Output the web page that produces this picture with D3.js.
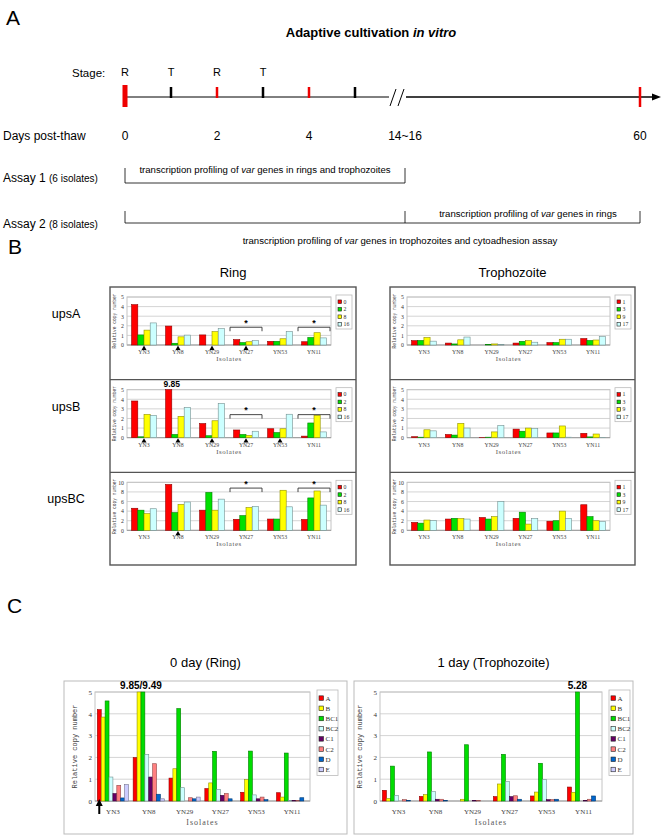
<!DOCTYPE html>
<html><head><meta charset="utf-8">
<script src="https://cdn.jsdelivr.net/npm/d3@7"></script>
<style>body{margin:0;background:#fff}</style>
</head><body>
<svg id="fig" width="662" height="837"></svg>
<script>
// ---------------- DATA ----------------
const isolates = ["YN3","YN8","YN29","YN27","YN53","YN11"];
const ringDays = ["0","2","8","16"];
const trophDays = ["1","3","9","17"];
// series x isolates
const ringUpsA = [[4.2,1.97,1.05,0.56,0.38,0.34],[1.05,0.18,0,0.25,0.38,0.78],[1.55,0.85,1.39,0.34,0.65,1.28],[2.3,1.03,1.7,0.45,1.39,0.74]];
const ringUpsB = [[3.82,9.85,1.47,0.8,0.93,0.16],[0.09,0.33,0.2,0.33,0.53,1.53],[2.42,2.22,1.76,0.24,0.93,2.33],[2.33,3.16,3.56,0.67,2.44,0.6]];
const ringUpsBC = [[4.6,9.55,4.2,2.3,2.35,2.27],[4.2,3.7,7.9,3.07,2.35,6.75],[3.47,5.4,4.2,4.75,8.35,8.2],[4.5,5.9,6.5,5.0,4.9,5.25]];
const trophUpsA = [[0.45,0.2,0,0.2,0.25,0.67],[0.47,0.11,0.07,0.38,0.25,0.47],[0.78,0.54,0.11,0.45,0.6,0.52],[0.4,0.83,0.07,0.29,0.6,0.87]];
const trophUpsB = [[0.1,0.33,0.02,0.89,0.49,0.45],[0.05,0.27,0.05,0.67,0.49,0.08],[0.82,1.49,0.6,1.0,1.22,0.38],[0.71,1.0,1.27,0.96,0.05,0.03]];
const trophUpsBC = [[1.65,2.35,2.67,2.5,1.9,5.33],[1.5,2.5,2.35,3.78,2.0,2.85],[2.15,2.45,2.85,1.3,4.0,2.0],[2.05,2.35,6.0,2.45,2.45,1.8]];
const rowNames = ["upsA","upsB","upsBC"];
const rowYMax = [5,5,10];
const rowYStep = [1,1,2];
const rowArrows = [["YN3","YN8","YN29","YN27"],["YN3","YN8","YN29","YN27","YN53"],["YN8"]];
const bracketLevels = [1.85,2.4,8.8];
const bracketIsolates = ["YN27","YN11"];

const ugroups = ["A","B","BC1","BC2","C1","C2","D","E"];
const day0Ring = [[4.19,1.99,1.05,0.57,0.4,0.38],[3.85,9.85,1.48,0.83,0.98,0.18],[4.59,9.49,4.24,2.28,2.29,2.2],[1.1,2.14,0.61,0.53,0.28,0.03],[0.34,1.1,0,0.26,0.1,0.03],[0.72,1.71,0.15,0.34,0.18,0.03],[0.14,0.31,0.1,0.1,0.06,0.15],[0.75,0.1,0.18,0,0,0]];
const day1Troph = [[0.49,0.21,0,0.2,0.23,0.64],[0.11,0.29,0.08,0.78,0.41,0.4],[1.6,2.25,2.58,2.14,1.73,5.28],[0.26,0.43,0,0.89,0.98,0],[0,0.08,0.03,0.2,0.06,0.03],[0.06,0.08,0.03,0.24,0.06,0.08],[0.03,0.03,0,0.08,0.08,0.23],[0,0,0,0,0,0]];

const stageDays = [0,1,2,3,4,5,60];
const stageLabels = ["R","T","R","T","","",""];
const dayLabels = [["0",0],["2",2],["4",4],["14~16",15],["60",60]];

// ---------------- STYLE ----------------
const dayColors = ["#ff0000","#00e000","#ffff00","#ccffff"];
const ugColors = ["#ff0000","#ffff00","#00dd00","#ccffff","#660066","#ff8080","#0066cc","#ccccff"];
const SANS = "Liberation Sans, Arial, sans-serif";
const NARROW = "Liberation Sans Narrow, Arial Narrow, Liberation Sans, sans-serif";
const SERIF = "Liberation Serif, DejaVu Serif, serif";
const MONO = "Liberation Mono, DejaVu Sans Mono, monospace";

const svg = d3.select("#fig");

// ---------------- PANEL A ----------------
const tl = d3.scaleLinear().domain([0,5,15,60]).range([125,355,405,640]);
svg.append("text").attr("x",6).attr("y",25).attr("font-family",SANS).attr("font-size",21).text("A");
const tt = svg.append("text").attr("x",371).attr("y",37).attr("text-anchor","middle")
  .attr("font-family",NARROW).attr("font-size",13).attr("font-weight","bold");
tt.append("tspan").text("Adaptive cultivation ");
tt.append("tspan").attr("font-style","italic").text("in vitro");
svg.append("text").attr("x",72).attr("y",77).attr("font-family",SANS).attr("font-size",11.5).text("Stage:");
const lineY = 97;
svg.append("line").attr("x1",tl(0)).attr("x2",tl(5)+34).attr("y1",lineY).attr("y2",lineY).attr("stroke","#000").attr("stroke-width",1);
svg.append("line").attr("x1",tl(15)+1).attr("x2",655).attr("y1",lineY).attr("y2",lineY).attr("stroke","#000").attr("stroke-width",1.7);
svg.append("path").attr("d",`M661,${lineY} L652,${lineY-3.5} L652,${lineY+3.5}Z`).attr("fill","#000");
svg.append("path").attr("d",`M390,${lineY+9} L396,${lineY-8} M398,${lineY+9} L404,${lineY-8}`).attr("stroke","#000").attr("stroke-width",1);
stageDays.forEach((d,i)=>{
  const red = (i%2===0);
  const w = i===0?5:2.5;
  const y0 = i===0?lineY-12:lineY-10;
  const h = i===0?22:(d===60?20:11);
  svg.append("rect").attr("x",tl(d)-w/2).attr("y",y0).attr("width",w).attr("height",h).attr("fill",red?"#ee0000":"#000");
  if (stageLabels[i]) svg.append("text").attr("x",tl(d)).attr("y",76).attr("text-anchor","middle").attr("font-family",SANS).attr("font-size",11).text(stageLabels[i]);
});
svg.append("text").attr("x",3).attr("y",140).attr("font-family",SANS).attr("font-size",12).text("Days post-thaw");
dayLabels.forEach(([t,d])=>svg.append("text").attr("x",tl(d)).attr("y",140).attr("text-anchor","middle").attr("font-family",SANS).attr("font-size",12).text(t));
function assayLabel(y,n,sub){
  const t=svg.append("text").attr("x",3).attr("y",y).attr("font-family",SANS).attr("font-size",12);
  t.append("tspan").text(n+" ");
  t.append("tspan").attr("font-family",NARROW).attr("font-size",10).text(sub);
}
function italText(x,y,parts){
  const t=svg.append("text").attr("x",x).attr("y",y).attr("text-anchor","middle").attr("font-family",NARROW).attr("font-size",9.6);
  parts.forEach(([s,it])=>t.append("tspan").attr("font-style",it?"italic":"normal").text(s));
}
assayLabel(182,"Assay 1","(6 isolates)");
svg.append("path").attr("d",`M${tl(0)},168 V183 H${tl(15)} V168`).attr("fill","none").attr("stroke","#000").attr("stroke-width",0.8);
italText((tl(0)+tl(15))/2,173,[["transcription profiling of ",0],["var",1],[" genes in rings and trophozoites",0]]);
assayLabel(228,"Assay 2","(8 isolates)");
svg.append("path").attr("d",`M${tl(0)},211 V223 H${tl(60)} V211 M${tl(15)},211 V223`).attr("fill","none").attr("stroke","#000").attr("stroke-width",0.8);
italText(528,217,[["transcription profiling of ",0],["var",1],[" genes in rings",0]]);
italText(400,244,[["transcription profiling of ",0],["var",1],[" genes in trophozoites and cytoadhesion assay",0]]);

// ---------------- PANEL B ----------------
svg.append("text").attr("x",8).attr("y",254).attr("font-family",SANS).attr("font-size",21).text("B");
const cols = [
  {title:"Ring", bx0:110, bx1:356, data:[ringUpsA,ringUpsB,ringUpsBC], legend:ringDays, ring:true},
  {title:"Trophozoite", bx0:390, bx1:635, data:[trophUpsA,trophUpsB,trophUpsBC], legend:trophDays, ring:false}
];
const boxTop=287, boxBot=565;
const rowH=(boxBot-boxTop)/3;
const rowTops=[0,1,2].map(i=>boxTop+i*rowH);
const plotTops=rowTops.map(t=>t+10), plotBots=rowTops.map(t=>t+58);

function barChart(g, o){
  const x0 = d3.scaleBand().domain(isolates).range([o.px0,o.px1]).paddingInner(o.pad).paddingOuter(o.pad/2);
  const x1 = d3.scaleBand().domain(d3.range(o.series.length)).range([0,x0.bandwidth()]);
  const y = d3.scaleLinear().domain([0,o.yMax]).range([o.py1,o.py0]).clamp(true);
  const ticks = d3.range(0,o.yMax+0.001,o.yStep);
  g.append("g").selectAll("line").data(ticks.slice(1)).join("line")
    .attr("x1",o.px0).attr("x2",o.px1).attr("y1",d=>y(d)).attr("y2",d=>y(d)).attr("stroke","#d4d4d4").attr("stroke-width",1);
  g.append("rect").attr("x",o.px0).attr("y",o.py0).attr("width",o.px1-o.px0).attr("height",o.py1-o.py0).attr("fill","none").attr("stroke","#c4c4c4");
  g.append("line").attr("x1",o.px0).attr("x2",o.px1).attr("y1",o.py1).attr("y2",o.py1).attr("stroke","#999");
  const yAx = d3.axisLeft(y).tickValues(ticks).tickSize(0).tickPadding(3).tickFormat(d3.format("d"));
  const ya = g.append("g").attr("transform",`translate(${o.px0},0)`).call(yAx);
  ya.select(".domain").remove();
  ya.selectAll("text").attr("font-family",SERIF).attr("font-size",o.fs).attr("fill","#333");
  const xAx = d3.axisBottom(x0).tickSize(0).tickPadding(o.xpad);
  const xa = g.append("g").attr("transform",`translate(0,${o.py1})`).call(xAx);
  xa.select(".domain").remove();
  xa.selectAll("text").attr("font-family",SERIF).attr("font-size",o.fs).attr("fill","#444");
  o.series.forEach((vals,si)=>{
    g.append("g").selectAll("rect").data(vals.map((v,i)=>({v,iso:isolates[i]}))).join("rect")
      .attr("x",d=>x0(d.iso)+x1(si)).attr("width",x1.bandwidth())
      .attr("y",d=>y(d.v)).attr("height",d=>y(0)-y(d.v))
      .attr("fill",o.colors[si]).attr("stroke",d3.color(o.colors[si]).darker(1.6)).attr("stroke-width",0.6);
  });
  g.append("text").attr("x",(o.px0+o.px1)/2).attr("y",o.py1+o.isoOff).attr("text-anchor","middle")
    .attr("font-family",SERIF).attr("font-size",o.fs+1).attr("letter-spacing",o.ls).attr("fill","#555").text("Isolates");
  g.append("text").attr("transform",`translate(${o.px0-o.ytOff},${(o.py0+o.py1)/2}) rotate(-90)`).attr("text-anchor","middle")
    .attr("font-family",MONO).attr("font-size",o.ytfs).attr("fill","#444").text("Relative copy number");
  const lg = g.append("g");
  lg.append("rect").attr("x",o.lx).attr("y",o.ly).attr("width",o.lw).attr("height",o.lrow*o.legend.length+4)
    .attr("fill","#fff").attr("stroke","#bbb").attr("stroke-width",0.8);
  o.legend.forEach((l,i)=>{
    lg.append("rect").attr("x",o.lx+2).attr("y",o.ly+3+i*o.lrow+(o.lrow-o.sq)/2).attr("width",o.sq).attr("height",o.sq)
      .attr("fill",o.colors[i]).attr("stroke","#222").attr("stroke-width",0.6);
    lg.append("text").attr("x",o.lx+o.sq+4).attr("y",o.ly+3+i*o.lrow+o.lrow/2+o.fs*0.35).attr("font-family",SERIF)
      .attr("font-size",o.fs).attr("fill","#333").text(l);
  });
  return {x0,x1,y};
}

cols.forEach(c=>{
  const px0 = c.bx0+17, px1 = c.bx1-25;
  svg.append("text").attr("x",(c.bx0+c.bx1)/2).attr("y",277).attr("text-anchor","middle").attr("font-family",SANS).attr("font-size",13).text(c.title);
  svg.append("rect").attr("x",c.bx0).attr("y",boxTop).attr("width",c.bx1-c.bx0).attr("height",boxBot-boxTop).attr("fill","none").attr("stroke","#555").attr("stroke-width",1.4);
  rowTops.slice(1).forEach(d=>svg.append("line").attr("x1",c.bx0).attr("x2",c.bx1).attr("y1",d).attr("y2",d).attr("stroke","#555").attr("stroke-width",1.4));
  c.data.forEach((series,r)=>{
    const g = svg.append("g");
    const sc = barChart(g,{px0,px1,py0:plotTops[r],py1:plotBots[r],yMax:rowYMax[r],yStep:rowYStep[r],
      series,colors:dayColors,legend:c.legend,pad:0.27,fs:5.8,xpad:5,isoOff:16,ls:0.6,ytOff:11,ytfs:4.6,
      lx:px1+5,ly:plotTops[r]-2,lw:16,lrow:7.5,sq:3.6});
    if (c.ring){
      rowArrows[r].forEach(iso=>{
        g.append("path").attr("d",d3.symbol(d3.symbolTriangle,11)()).attr("transform",`translate(${sc.x0(iso)+sc.x0.bandwidth()/2},${plotBots[r]+3.5})`).attr("fill","#000");
      });
      bracketIsolates.forEach(iso=>{
        const cx = sc.x0(iso)+sc.x0.bandwidth()/2, yy = sc.y(bracketLevels[r]);
        g.append("path").attr("d",`M${cx-16},${yy+4} V${yy} H${cx+16} V${yy+4}`).attr("fill","none").attr("stroke","#333").attr("stroke-width",0.9);
        g.append("text").attr("x",cx).attr("y",yy-1.5).attr("text-anchor","middle").attr("font-family",SANS).attr("font-weight","bold").attr("font-size",9).text("*");
      });
      if (r===1){
        const xi = sc.x0("YN8")+sc.x1(0)+sc.x1.bandwidth()/2;
        g.append("text").attr("x",xi+3).attr("y",plotTops[r]-2.5).attr("text-anchor","middle").attr("font-family",SANS).attr("font-weight","bold").attr("font-size",8.5).text(ringUpsB[0][1].toFixed(2));
      }
    }
  });
});
rowNames.forEach((n,r)=>svg.append("text").attr("x",66).attr("y",rowTops[r]+31).attr("text-anchor","middle").attr("font-family",SANS).attr("font-size",12.5).text(n));

// ---------------- PANEL C ----------------
svg.append("text").attr("x",7).attr("y",613).attr("font-family",SANS).attr("font-size",21).text("C");
const cCharts = [
  {title:"0 day (Ring)", bx0:64, bx1:347, px0:95, px1:310, data:day0Ring},
  {title:"1 day (Trophozoite)", bx0:354, bx1:633, px0:380, px1:602, data:day1Troph}
];
cCharts.forEach((c,ci)=>{
  svg.append("text").attr("x",(c.bx0+c.bx1)/2).attr("y",667).attr("text-anchor","middle").attr("font-family",SANS).attr("font-size",13).text(c.title);
  svg.append("rect").attr("x",c.bx0).attr("y",681).attr("width",c.bx1-c.bx0).attr("height",153).attr("fill","none").attr("stroke","#bbb").attr("stroke-width",1);
  const g = svg.append("g");
  const sc = barChart(g,{px0:c.px0,px1:c.px1,py0:692,py1:801,yMax:5,yStep:1,series:c.data,colors:ugColors,legend:ugroups,
    pad:0.13,fs:7,xpad:8,isoOff:24,ls:1,ytOff:18,ytfs:7,lx:c.px1+7,ly:690,lw:21,lrow:10.2,sq:4.5});
  if (ci===0){
    const xb = sc.x0("YN8")+sc.x1(1)+sc.x1.bandwidth();
    g.append("text").attr("x",xb).attr("y",689).attr("text-anchor","middle").attr("font-family",SANS).attr("font-weight","bold").attr("font-size",10)
      .text(day0Ring[1][1].toFixed(2)+"/"+day0Ring[2][1].toFixed(2));
    const xa = sc.x0("YN3")+sc.x1(0)+sc.x1.bandwidth()/2;
    g.append("line").attr("x1",xa).attr("x2",xa).attr("y1",814).attr("y2",805).attr("stroke","#000").attr("stroke-width",2);
    g.append("path").attr("d",`M${xa},799 L${xa-3.5},806 L${xa+3.5},806Z`).attr("fill","#000");
  } else {
    const xb = sc.x0("YN11")+sc.x1(2)+sc.x1.bandwidth()/2;
    g.append("text").attr("x",xb).attr("y",689).attr("text-anchor","middle").attr("font-family",SANS).attr("font-weight","bold").attr("font-size",10)
      .text(day1Troph[2][5].toFixed(2));
  }
});
</script>
</body></html>
